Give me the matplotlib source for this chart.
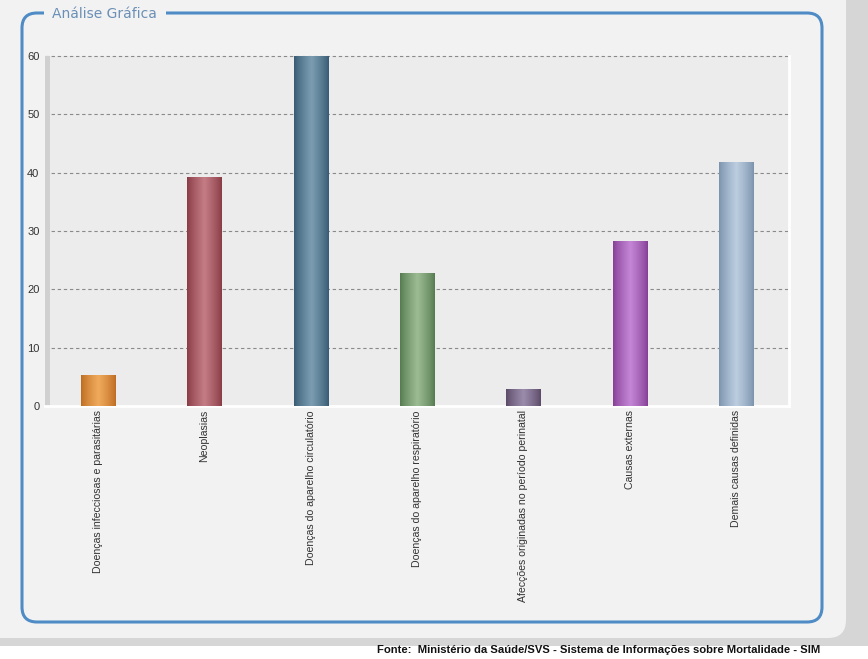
import numpy as np
import matplotlib
matplotlib.use('Agg')
import matplotlib.pyplot as plt
from matplotlib.patches import FancyBboxPatch, Rectangle
from matplotlib.colors import LinearSegmentedColormap

plt.rcParams['font.family'] = ['Liberation Sans', 'DejaVu Sans']

# dados
categorias = [
    'Doenças infecciosas e parasitárias',
    'Neoplasias',
    'Doenças do aparelho circulatório',
    'Doenças do aparelho respiratório',
    'Afecções originadas no período perinatal',
    'Causas externas',
    'Demais causas definidas',
]
valores = [5.3, 39.3, 60.0, 22.8, 2.9, 28.3, 41.8]
cores_escuras = ['#bd6d22', '#883b45', '#375b73', '#557a50', '#5a4a68', '#853f95', '#7b93ad']
cores_claras = ['#f0aa5c', '#c47c85', '#7c9db2', '#9cbc94', '#9c8cab', '#c586d6', '#bccde0']
yticks = [0, 10, 20, 30, 40, 50, 60]

W, H = 868, 659
fig = plt.figure(figsize=(W / 100, H / 100), dpi=100)
fig.patch.set_facecolor('white')

# fundo / moldura
bg = fig.add_axes([0, 0, 1, 1], zorder=0)
bg.set_xlim(0, W)
bg.set_ylim(H, 0)
bg.axis('off')
bg.add_patch(Rectangle((0, 0), W, 646, facecolor='#d6d6d6', edgecolor='none'))
bg.add_patch(FancyBboxPatch((-20, -20), 866, 658, boxstyle='round,pad=0,rounding_size=18',
                            facecolor='#f2f2f2', edgecolor='none'))
bg.add_patch(FancyBboxPatch((22, 13), 800, 609, boxstyle='round,pad=0,rounding_size=15',
                            facecolor='none', edgecolor='#4f8cc6', linewidth=2.2))
bg.add_patch(Rectangle((44, 4), 122, 18, facecolor='#f2f2f2', edgecolor='none'))
bg.text(52, 14, 'Análise Gráfica', fontsize=10, color='#6b8fb6', va='center', ha='left',
        family=['DejaVu Sans'])
bg.text(820, 650, 'Fonte:  Ministério da Saúde/SVS - Sistema de Informações sobre Mortalidade - SIM',
        fontsize=8.1, fontweight='bold', color='#111111', ha='right', va='center')

# área do gráfico
x0, x1, ytop, ybot = 45, 789, 56, 406
ax = fig.add_axes([x0 / W, 1 - ybot / H, (x1 - x0) / W, (ybot - ytop) / H], zorder=2)
ax.set_facecolor('#ececec')
for s in ['top', 'left']:
    ax.spines[s].set_visible(False)
ax.spines['right'].set_color('white')
ax.spines['right'].set_linewidth(2)
ax.spines['bottom'].set_color('white')
ax.spines['bottom'].set_linewidth(2)
ax.set_yticks(yticks)
ax.set_yticklabels([str(v) for v in yticks], fontsize=8, color='#333333')
ax.tick_params(axis='y', length=0, pad=4)
ax.tick_params(axis='x', length=0, pad=3)
ax.set_xticks(range(len(categorias)))
ax.set_xticklabels(categorias, rotation=90, fontsize=7.6, color='#333333', va='top')
for v in yticks[1:]:
    ax.axhline(v, color='#8a8a8a', linestyle=(0, (3, 2.5)), linewidth=0.8, zorder=1, clip_on=False)

# sombra à esquerda
ax.add_patch(Rectangle((-0.5, 0), 0.045, 60, facecolor='#d0d0d0', edgecolor='none',
                       transform=ax.transData, zorder=1))

bars = ax.bar(range(len(categorias)), valores, width=0.32, color='none', edgecolor='none', zorder=3)
t = np.linspace(0, 1, 64)
grad = (1 - np.abs(2 * t - 1)) ** 0.8
for bar, c_dark, c_light in zip(bars, cores_escuras, cores_claras):
    cmap = LinearSegmentedColormap.from_list('g', [c_dark, c_light])
    x = bar.get_x()
    w = bar.get_width()
    h = bar.get_height()
    im = ax.imshow(grad[np.newaxis, :], cmap=cmap, aspect='auto', extent=(x, x + w, 0, h),
                   zorder=3, vmin=0, vmax=1, interpolation='bilinear')
    im.set_clip_path(bar)
ax.set_xlim(-0.5, len(categorias) - 0.5)
ax.set_ylim(0, 60)

fig.savefig('out.png', dpi=100, facecolor=fig.get_facecolor())
